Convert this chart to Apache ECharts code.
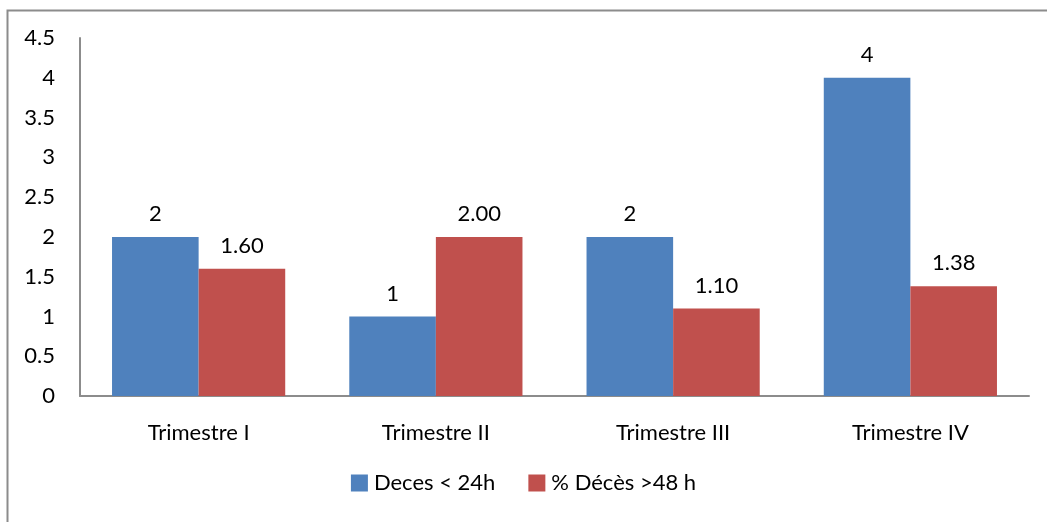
<!DOCTYPE html>
<html>
<head>
<meta charset="utf-8">
<script src="https://cdn.jsdelivr.net/npm/echarts@6/dist/echarts.min.js"></script>
<style>
  html, body { margin: 0; padding: 0; background: #fff; }
  #chart { width: 1047px; height: 522px; }
</style>
</head>
<body>
<div id="chart"></div>
<script>
// Quarterly deaths: counts under 24h and percentage over 48h
const categories = ['Trimestre I', 'Trimestre II', 'Trimestre III', 'Trimestre IV'];
const deces24 = [2, 1, 2, 4];
const deces48 = [1.60, 2.00, 1.10, 1.38];
const seriesNames = ['Deces < 24h', '% Décès >48 h'];

const FONT = 'Lato, "Open Sans", sans-serif';
const FS = 22;
const chart = echarts.init(document.getElementById('chart'), null, { renderer: 'canvas' });

chart.setOption({
  backgroundColor: '#fff',
  animation: false,
  textStyle: { fontFamily: FONT },
  graphic: [{
    type: 'rect',
    shape: { x: 7.5, y: 10.5, width: 1100, height: 600 },
    style: { fill: 'none', stroke: '#8c8c8c', lineWidth: 2 },
    silent: true
  }],
  grid: { left: 80, right: 18, top: 38, bottom: 126, containLabel: false },
  legend: {
    bottom: 23,
    left: 'center',
    itemWidth: 17,
    itemHeight: 17,
    itemGap: 33,
    icon: 'rect',
    textStyle: { fontSize: FS, color: '#000', fontFamily: FONT, padding: [0, 0, 0, 1] },
    data: seriesNames
  },
  xAxis: {
    type: 'category',
    data: categories,
    axisLine: { lineStyle: { color: '#8c8c8c', width: 2 } },
    axisTick: { show: false },
    axisLabel: { fontSize: FS, color: '#000', margin: 26, fontFamily: FONT }
  },
  yAxis: {
    type: 'value',
    min: 0,
    max: 4.5,
    interval: 0.5,
    splitLine: { show: false },
    axisLine: { show: true, lineStyle: { color: '#8c8c8c', width: 2 } },
    axisTick: { show: false },
    axisLabel: { fontSize: FS, color: '#000', margin: 25, fontFamily: FONT }
  },
  series: [
    {
      name: seriesNames[0],
      type: 'bar',
      data: deces24,
      barGap: '0%',
      barCategoryGap: '27%',
      itemStyle: { color: '#4F81BD' },
      label: {
        show: true, position: 'top', distance: 12,
        fontSize: FS, color: '#000', fontFamily: FONT,
        formatter: p => String(p.value)
      }
    },
    {
      name: seriesNames[1],
      type: 'bar',
      data: deces48,
      itemStyle: { color: '#C0504D' },
      label: {
        show: true, position: 'top', distance: 12,
        fontSize: FS, color: '#000', fontFamily: FONT,
        formatter: p => p.value.toFixed(2)
      }
    }
  ]
});
</script>
</body>
</html>
